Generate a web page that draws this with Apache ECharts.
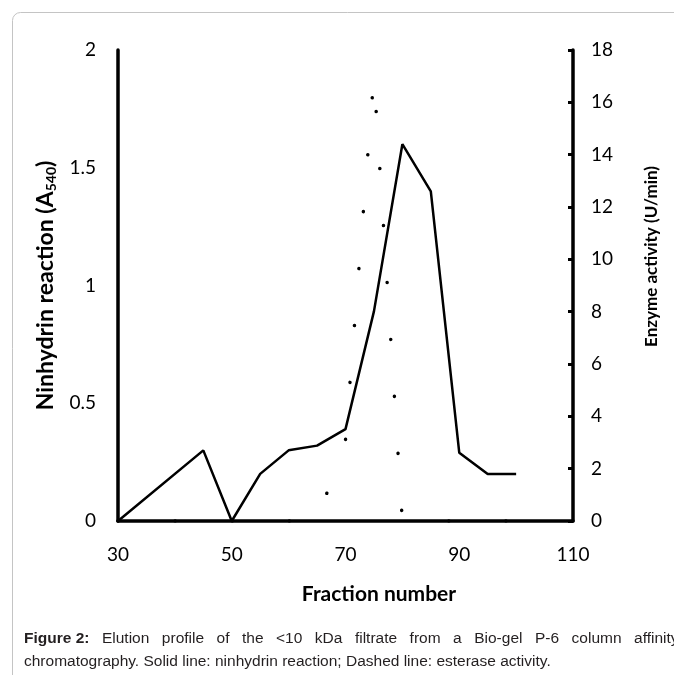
<!DOCTYPE html>
<html lang="en">
<head>
    <meta charset="UTF-8">
    <title>Elution profile</title>
    <style>
        *{margin: 0; padding: 0;}
        body,html{width: 100%; height: 100%; background: #fff;}
        #chart{width: 674px; height: 675px;}
    </style>
</head>
<body>
<div id="chart"></div>
<script src="https://cdn.jsdelivr.net/npm/echarts@6/dist/echarts.min.js"></script>
<script>
// fraction numbers and readings
var fractions = [30, 45, 50, 55, 60, 65, 70, 75, 80, 85, 90, 95, 100];
var ninhydrin = [0, 0.3, 0, 0.2, 0.3, 0.32, 0.39, 0.89, 1.6, 1.4, 0.29, 0.2, 0.2];
var esterase  = [0, 0, 0, 0, 0, 0, 3.1, 17, 0, 0, 0, 0, 0];
var xTicks = [30, 110, 20];      // min, max, interval
var leftTicks = [0, 2, 0.5];
var rightTicks = [0, 18, 2];

var captionLine1 = 'Elution profile of the <10 kDa filtrate from a Bio-gel P-6 column affinity';
var captionLine2 = 'chromatography. Solid line: ninhydrin reaction; Dashed line: esterase activity.';

function pairs(xs, ys) {
    var out = [];
    for (var i = 0; i < xs.length; i++) out.push([xs[i], ys[i]]);
    return out;
}

var font = 'Lato';
var capFont = 'Liberation Sans';
// first caption line is justified in the original, so its word gaps are wider
var line1 = '{b|Figure 2:}{g| }' + captionLine1.split(' ').join('{g| }');

var chart = echarts.init(document.getElementById('chart'));
chart.setOption({
    animation: false,
    backgroundColor: '#fff',
    grid: {left: 118, right: 101, top: 50, bottom: 154},
    title: {
        left: 19, top: 622,
        text: line1 + '\n' + captionLine2,
        textStyle: {
            fontFamily: capFont, fontSize: 15.5, fontWeight: 'normal', color: '#231f20', lineHeight: 23,
            rich: {
                b: {fontFamily: capFont, fontSize: 15.5, fontWeight: 'bold', color: '#231f20', lineHeight: 23},
                g: {fontFamily: capFont, fontSize: 15.5, width: 12.5, lineHeight: 23}
            }
        }
    },
    graphic: [{
        type: 'rect', silent: true, z: -1,
        shape: {x: 12.5, y: 12.5, width: 720, height: 720, r: 8},
        style: {fill: 'none', stroke: '#c4c4c4', lineWidth: 1}
    }],
    xAxis: {
        type: 'value',
        min: xTicks[0], max: xTicks[1], interval: xTicks[2],
        name: 'Fraction number',
        nameLocation: 'middle',
        nameGap: 63,
        nameTextStyle: {fontFamily: font, fontSize: 21, fontWeight: 'bold', color: '#000', padding: [0, 0, 0, 67]},
        axisLine: {lineStyle: {color: '#000', width: 3.5}},
        axisTick: {show: false},
        splitLine: {show: false},
        axisLabel: {fontFamily: font, fontSize: 19, color: '#000', margin: 24}
    },
    yAxis: [{
        type: 'value',
        min: leftTicks[0], max: leftTicks[1], interval: leftTicks[2],
        name: '{n|Ninhydrin reaction (A}{s|540}{n|)}',
        nameLocation: 'middle',
        nameRotate: 90,
        nameGap: 58,
        nameTextStyle: {
            rich: {
                n: {fontFamily: font, fontSize: 23, fontWeight: 'bold', color: '#000'},
                s: {fontFamily: font, fontSize: 14, fontWeight: 'bold', color: '#000', verticalAlign: 'bottom', padding: [11, 0, 0, 0]}
            }
        },
        axisLine: {show: true, lineStyle: {color: '#000', width: 3.5}},
        axisTick: {show: false},
        splitLine: {show: false},
        axisLabel: {fontFamily: font, fontSize: 19, color: '#000', margin: 22}
    }, {
        type: 'value',
        position: 'right',
        min: rightTicks[0], max: rightTicks[1], interval: rightTicks[2],
        name: 'Enzyme activity (U/min)',
        nameLocation: 'middle',
        nameRotate: 90,
        nameGap: 70,
        nameTextStyle: {fontFamily: font, fontSize: 17, fontWeight: 'bold', color: '#000', padding: [0, 0, 0, 58]},
        axisLine: {show: true, lineStyle: {color: '#000', width: 3.5}},
        axisTick: {show: true, inside: true, length: 5, lineStyle: {color: '#000', width: 3}},
        splitLine: {show: false},
        axisLabel: {fontFamily: font, fontSize: 19, color: '#000', margin: 18}
    }],
    series: [{
        name: 'Ninhydrin',
        type: 'line',
        yAxisIndex: 0,
        symbol: 'none',
        lineStyle: {color: '#000', width: 2.5},
        data: pairs(fractions, ninhydrin)
    }, {
        name: 'Esterase',
        type: 'line',
        yAxisIndex: 1,
        symbol: 'none',
        lineStyle: {color: '#000', width: 3.5, type: [0.1, 57], cap: 'round'},
        data: pairs(fractions, esterase)
    }]
});
</script>
</body>
</html>
